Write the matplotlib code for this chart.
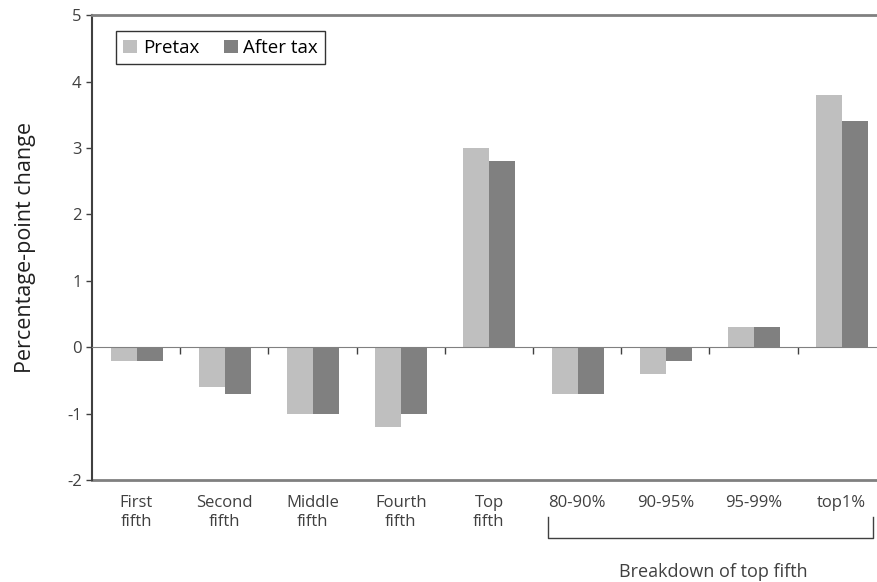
import matplotlib.pyplot as plt
import numpy as np
from matplotlib.transforms import blended_transform_factory

plt.rcParams['font.family'] = ['Open Sans', 'DejaVu Sans']
plt.rcParams['axes.unicode_minus'] = False

categories = ['First\nfifth', 'Second\nfifth', 'Middle\nfifth', 'Fourth\nfifth', 'Top\nfifth',
              '80-90%', '90-95%', '95-99%', 'top1%']
pretax = [-0.2, -0.6, -1.0, -1.2, 3.0, -0.7, -0.4, 0.3, 3.8]
after_tax = [-0.2, -0.7, -1.0, -1.0, 2.8, -0.7, -0.2, 0.3, 3.4]

txt = '#404040'
fig = plt.figure(figsize=(8.77, 5.82), dpi=100)
ax = fig.add_axes([0.105, 0.175, 0.895, 0.799])

x = np.arange(len(categories))
w = 0.295
ax.bar(x - w / 2 + 0.005, pretax, w, color='#bfbfbf', label='Pretax')
ax.bar(x + w / 2 + 0.005, after_tax, w, color='#808080', label='After tax')

ax.set_xlim(-0.5, 8.4)
ax.set_ylim(-2, 5)
ax.set_yticks(range(-2, 6))
ax.tick_params(axis='y', colors='#404040', labelcolor=txt, labelsize=12, length=4, width=1)

# linea del cero con marcas entre categorias
ax.spines['bottom'].set_position(('data', 0))
ax.spines['bottom'].set_color('#808080')
ax.set_xticks(np.arange(0.5, 8, 1))
ax.tick_params(axis='x', length=5, width=1, colors='#404040', labelbottom=False)

# etiquetas de categorias en la linea inferior
sec = ax.secondary_xaxis(0)
sec.set_xticks(x, categories)
sec.tick_params(length=0, labelsize=12, labelcolor=txt, pad=11)
sec.spines['bottom'].set_color('#808080')
sec.spines['bottom'].set_linewidth(2)

ax.spines['top'].set_color('#808080')
ax.spines['top'].set_linewidth(2)
ax.spines['right'].set_visible(False)
ax.spines['left'].set_color('#404040')
ax.spines['left'].set_linewidth(1.5)

ax.set_ylabel('Percentage-point change', fontsize=15.5, color='#202020', labelpad=22)

leg = ax.legend(loc='upper left', bbox_to_anchor=(0.018, 0.985), ncol=2, fontsize=13.5,
                frameon=True, fancybox=False, handlelength=0.75, handleheight=0.75,
                handletextpad=0.3, columnspacing=1.3, borderpad=0.4)
leg.get_frame().set_edgecolor('black')
leg.get_frame().set_linewidth(1)
for t in leg.get_texts():
    t.set_color('black')

# corchete del desglose del quintil superior
tr = blended_transform_factory(ax.transData, fig.transFigure)
y_top, y_bot = 1 - 517 / 582, 1 - 538 / 582
ax.plot([4.67, 4.67, 8.35, 8.35], [y_top, y_bot, y_bot, y_top], transform=tr,
        color='#404040', lw=1, clip_on=False)
ax.text(6.54, 1 - 572 / 582, 'Breakdown of top fifth', transform=tr, ha='center',
        va='center', fontsize=13, color=txt)

fig.savefig('out.png')
